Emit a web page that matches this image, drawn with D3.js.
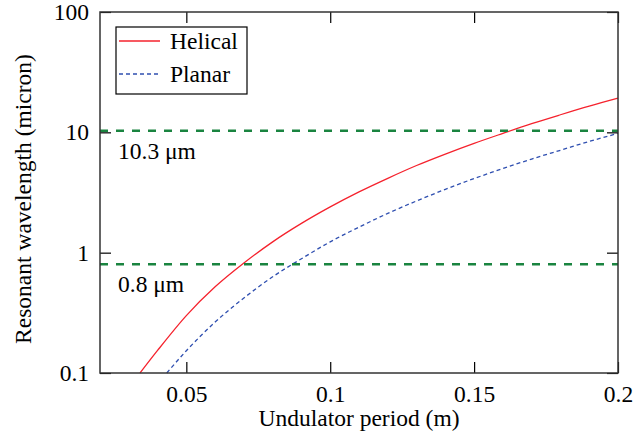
<!DOCTYPE html>
<html>
<head>
<meta charset="utf-8">
<script src="https://cdn.jsdelivr.net/npm/d3@7"></script>
<style>
  body { margin: 0; background: #fff; }
</style>
</head>
<body>
<svg id="chart" width="644" height="441"></svg>
<script>
// values
var periodHelical = [0.0339, 0.04, 0.05, 0.06, 0.07, 0.08, 0.09, 0.10, 0.11, 0.12, 0.13, 0.14, 0.15, 0.16, 0.17, 0.18, 0.19, 0.20];
var lambdaHelical = [0.10, 0.154, 0.30, 0.52, 0.82, 1.23, 1.75, 2.4, 3.2, 4.15, 5.3, 6.6, 8.1, 9.8, 11.8, 14.0, 16.5, 19.2];
var periodPlanar = [0.0432, 0.05, 0.06, 0.07, 0.08, 0.09, 0.10, 0.11, 0.12, 0.13, 0.14, 0.15, 0.16, 0.17, 0.18, 0.19, 0.20];
var lambdaPlanar = [0.10, 0.153, 0.265, 0.42, 0.63, 0.89, 1.23, 1.63, 2.12, 2.69, 3.36, 4.13, 5.0, 6.0, 7.1, 8.4, 9.8];
var refLines = [10.3, 0.8];
var refLabels = ["10.3 \u03bcm", "0.8 \u03bcm"];
var xTicks = [0.05, 0.1, 0.15, 0.2];
var yTicks = [0.1, 1, 10, 100];
var legendNames = ["Helical", "Planar"];

var svg = d3.select("#chart");
var pLeft = 100, pRight = 618, pTop = 12, pBottom = 373;

var x = d3.scaleLinear().domain([0.02, 0.2]).range([pLeft, pRight]);
var y = d3.scaleLog().domain([0.1, 100]).range([pBottom, pTop]);

var fs = "23.5px";
var serif = "'Liberation Serif', 'Times New Roman', 'DejaVu Serif', serif";

// curves
var line = d3.line()
  .x(function (d) { return x(d[0]); })
  .y(function (d) { return y(d[1]); })
  .curve(d3.curveMonotoneX);

svg.append("path")
  .datum(d3.zip(periodHelical, lambdaHelical))
  .attr("d", line)
  .attr("fill", "none")
  .attr("stroke", "#f5222d")
  .attr("stroke-width", 1.3);

svg.append("path")
  .datum(d3.zip(periodPlanar, lambdaPlanar))
  .attr("d", line)
  .attr("fill", "none")
  .attr("stroke", "#2f4fb0")
  .attr("stroke-width", 1.3)
  .attr("stroke-dasharray", "4,3");

// reference lines
svg.selectAll("line.ref")
  .data(refLines)
  .enter()
  .append("line")
  .attr("class", "ref")
  .attr("x1", pLeft)
  .attr("x2", pRight)
  .attr("y1", function (d) { return y(d); })
  .attr("y2", function (d) { return y(d); })
  .attr("stroke", "#1a8440")
  .attr("stroke-width", 2.5)
  .attr("stroke-dasharray", "8,8");

svg.selectAll("text.ref")
  .data(refLines)
  .enter()
  .append("text")
  .attr("class", "ref")
  .attr("x", 118)
  .attr("y", function (d) { return y(d) + 28; })
  .text(function (d, i) { return refLabels[i]; });

// axes (ticks inside, mirrored)
svg.append("g")
  .attr("transform", "translate(0," + pBottom + ")")
  .call(d3.axisBottom(x).tickValues(xTicks).tickSize(-11).tickPadding(12).tickFormat(d3.format("")))
  .call(function (g) { g.select(".domain").remove(); });

svg.append("g")
  .attr("transform", "translate(0," + pTop + ")")
  .call(d3.axisTop(x).tickValues(xTicks).tickSize(-11).tickFormat(""))
  .call(function (g) { g.select(".domain").remove(); });

svg.append("g")
  .attr("transform", "translate(" + pLeft + ",0)")
  .call(d3.axisLeft(y).tickValues(yTicks).tickSize(-11).tickPadding(11).tickFormat(d3.format("")))
  .call(function (g) { g.select(".domain").remove(); });

svg.append("g")
  .attr("transform", "translate(" + pRight + ",0)")
  .call(d3.axisRight(y).tickValues(yTicks).tickSize(-11).tickFormat(""))
  .call(function (g) { g.select(".domain").remove(); });

svg.selectAll(".tick line").attr("stroke", "#000").attr("stroke-width", 1.2);

svg.append("rect")
  .attr("x", pLeft)
  .attr("y", pTop)
  .attr("width", pRight - pLeft)
  .attr("height", pBottom - pTop)
  .attr("fill", "none")
  .attr("stroke", "#333")
  .attr("stroke-width", 1.5);

// axis titles
svg.append("text")
  .attr("x", (pLeft + pRight) / 2)
  .attr("y", 426)
  .attr("text-anchor", "middle")
  .text("Undulator period (m)");

svg.append("text")
  .attr("transform", "translate(31,199) rotate(-90)")
  .attr("text-anchor", "middle")
  .text("Resonant wavelength (micron)");

// legend
var legend = svg.append("g");
legend.append("rect")
  .attr("x", 116)
  .attr("y", 27)
  .attr("width", 131)
  .attr("height", 67)
  .attr("fill", "#fff")
  .attr("stroke", "#000")
  .attr("stroke-width", 1.2);

var legendStyle = [
  { color: "#f5222d", dash: null },
  { color: "#2f4fb0", dash: "4,3" }
];
legend.selectAll("line.key")
  .data(legendNames)
  .enter()
  .append("line")
  .attr("class", "key")
  .attr("x1", 119)
  .attr("x2", 160)
  .attr("y1", function (d, i) { return 41 + i * 33; })
  .attr("y2", function (d, i) { return 41 + i * 33; })
  .attr("stroke", function (d, i) { return legendStyle[i].color; })
  .attr("stroke-width", 1.3)
  .attr("stroke-dasharray", function (d, i) { return legendStyle[i].dash; });

legend.selectAll("text.key")
  .data(legendNames)
  .enter()
  .append("text")
  .attr("class", "key")
  .attr("x", 170)
  .attr("y", function (d, i) { return 49 + i * 33; })
  .text(function (d) { return d; });

// same face for every text
svg.selectAll("text")
  .attr("font-family", serif)
  .style("font-family", serif)
  .style("font-size", fs)
  .attr("fill", "#000");
</script>
</body>
</html>
